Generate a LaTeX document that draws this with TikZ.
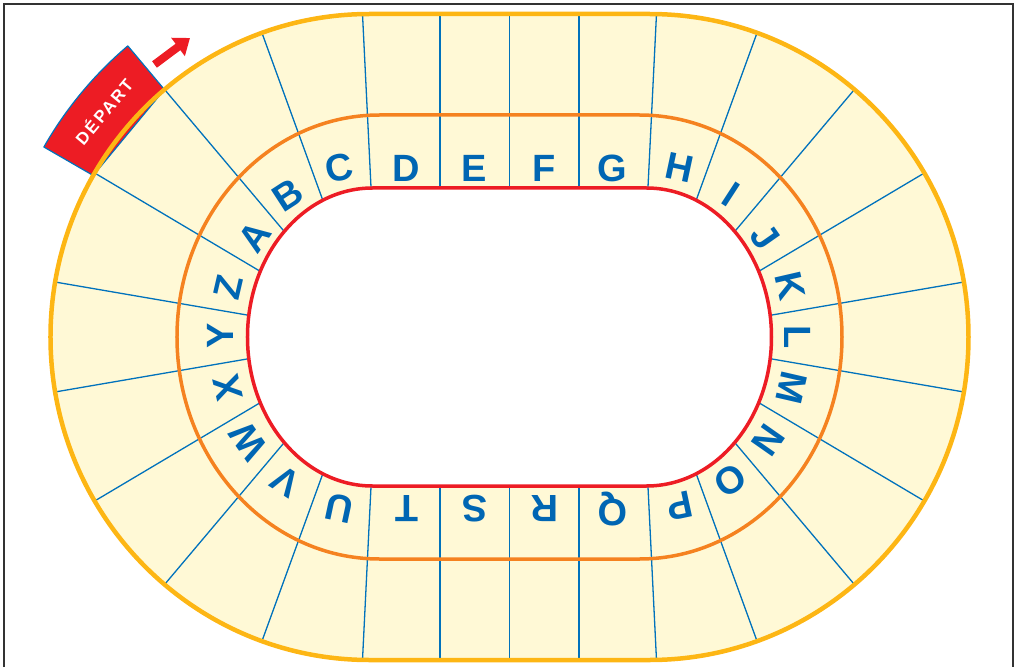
\documentclass[tikz,border=0pt]{standalone}
\usepackage{fontspec}
\setmainfont{Liberation Sans}
\newfontfamily\departfont[LetterSpace=12]{Liberation Sans}
\usetikzlibrary{arrows.meta,calc}
\definecolor{trackyellow}{HTML}{FFF9D6}
\definecolor{rimgold}{HTML}{FDB614}
\definecolor{midorange}{HTML}{F58220}
\definecolor{departred}{HTML}{ED1C24}
\definecolor{lineblue}{HTML}{0072BC}
\definecolor{letterblue}{HTML}{0066B3}
\definecolor{framegray}{HTML}{333333}

% oval loop: half straight length, x radius, y radius
\newcommand{\trackloop}[3]{(-#1,#3) -- (#1,#3)
    arc[start angle=90, end angle=-90, x radius=#2, y radius=#3]
    -- (-#1,-#3) arc[start angle=270, end angle=90, x radius=#2, y radius=#3] -- cycle}

\begin{document}
\begin{tikzpicture}[x=1pt, y=1pt,
    letter/.style={font=\fontsize{38}{38}\selectfont\bfseries, text=letterblue, inner sep=0pt},
    divider/.style={draw=lineblue, line width=1.3pt, shorten <=-20pt, shorten >=-40pt},
    depart/.style={font=\departfont\bfseries\fontsize{17}{17}\selectfont, text=white,
        inner sep=0pt, rotate=50},
]
\useasboundingbox (-509.5,-330) rectangle (505.5,337);

% Track surface
\fill[trackyellow] \trackloop{140}{319}{323};
\begin{scope}
\clip \trackloop{140}{319}{323};
% top straight
\draw[divider] (-138.5,150) -- (-147,323);
\draw[divider] (-69.5,150) -- (-69.5,323);
\draw[divider] (0,150) -- (0,323);
\draw[divider] (69.5,150) -- (69.5,323);
\draw[divider] (138.5,150) -- (147,323);
% right bend
\draw[divider] (187.5,139) -- (247.5,304);
\draw[divider] (226.5,107) -- (344.5,247);
\draw[divider] (251.5,67) -- (416.5,165);
\draw[divider] (262.5,22) -- (454.5,55);
\draw[divider] (262.5,-22) -- (454.5,-55);
\draw[divider] (251.5,-67) -- (416.5,-165);
\draw[divider] (226.5,-107) -- (344.5,-247);
\draw[divider] (187.5,-139) -- (247.5,-304);
% bottom straight
\draw[divider] (138.5,-150) -- (147,-323);
\draw[divider] (69.5,-150) -- (69.5,-323);
\draw[divider] (0,-150) -- (0,-323);
\draw[divider] (-69.5,-150) -- (-69.5,-323);
\draw[divider] (-138.5,-150) -- (-147,-323);
% left bend
\draw[divider] (-187.5,-139) -- (-247.5,-304);
\draw[divider] (-226.5,-107) -- (-344.5,-247);
\draw[divider] (-251.5,-67) -- (-416.5,-165);
\draw[divider] (-262.5,-22) -- (-454.5,-55);
\draw[divider] (-262.5,22) -- (-454.5,55);
\draw[divider] (-251.5,67) -- (-416.5,165);
\draw[divider] (-226.5,107) -- (-344.5,247);
\draw[divider] (-187.5,139) -- (-247.5,304);
\end{scope}

% Infield and lane line
\filldraw[fill=white, draw=departred, line width=3.5pt] \trackloop{137}{125}{149};
\draw[midorange, line width=3.5pt] \trackloop{130}{202.5}{222};

% Start banner
\filldraw[fill=departred, draw=lineblue, line width=1.2pt, line join=round]
    ($(-140,0)+(130:319 and 323)$) -- ($(-140,0)+(130:376 and 380)$)
    arc[start angle=130, end angle=150, x radius=376, y radius=380]
    -- ($(-140,0)+(150:319 and 323)$) -- cycle;
\node[depart] (depart) at ($(-140,0)+(140:347.5 and 351.5)$) {DÉPART};

% Outer rim
\draw[rimgold, line width=4.5pt] \trackloop{140}{319}{323};

% Letters, top
\node[letter, rotate=12] (C) at (-170,169) {C};
\node[letter] (D) at (-103,169) {D};
\node[letter] (E) at (-35,169) {E};
\node[letter] (F) at (35,169) {F};
\node[letter] (G) at (103,169) {G};
\node[letter, rotate=-12] (H) at (170,169) {H};
% right bend
\node[letter, rotate=-33] (I) at (222,143) {I};
\node[letter, rotate=-55] (J) at (256,100) {J};
\node[letter, rotate=-77] (K) at (281,51) {K};
\node[letter, rotate=-90] (L) at (288,0) {L};
\node[letter, rotate=-103] (M) at (282,-51) {M};
\node[letter, rotate=-125] (N) at (259,-103) {N};
\node[letter, rotate=-147] (O) at (221,-144) {O};
\node[letter, rotate=-168] (P) at (170,-169) {P};
% bottom
\node[letter, rotate=180] (Q) at (103,-172) {Q};
\node[letter, rotate=180] (R) at (35,-172) {R};
\node[letter, rotate=180] (S) at (-35,-172) {S};
\node[letter, rotate=180] (T) at (-103,-172) {T};
% left bend
\node[letter, rotate=168] (U) at (-170,-171) {U};
\node[letter, rotate=147] (V) at (-224,-145) {V};
\node[letter, rotate=125] (W) at (-261,-104) {W};
\node[letter, rotate=103] (X) at (-282,-51) {X};
\node[letter, rotate=90] (Y) at (-289,1) {Y};
\node[letter, rotate=77] (Z) at (-281,50) {Z};
\node[letter, rotate=55] (A) at (-255,100) {A};
\node[letter, rotate=33] (B) at (-222,142) {B};

% Direction arrow
\coordinate (arrowtail) at (-355,272.5);
\coordinate (arrowtip) at (-319.5,299);
\draw[departred, line width=8pt, -{Triangle[length=15pt, width=22pt]}] (arrowtail) -- (arrowtip);

% Frame
\draw[framegray, line width=1.5pt] (-505.5,-330) -- (-505.5,333) -- (503.5,333) -- (503.5,-330);
\end{tikzpicture}
\end{document}
